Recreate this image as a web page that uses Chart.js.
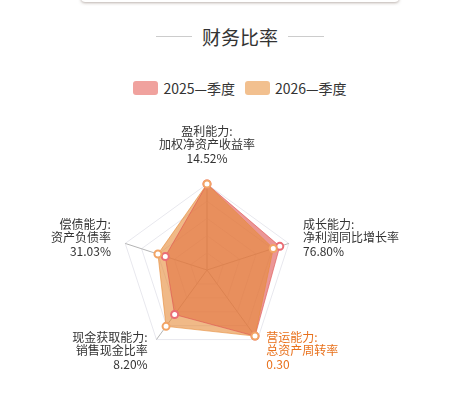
<!DOCTYPE html>
<html>
<head>
<meta charset="utf-8">
<script src="https://cdn.jsdelivr.net/npm/chart.js@4.4.1/dist/chart.umd.min.js"></script>
<style>
    html, body { margin: 0; padding: 0; background: #fff; overflow: hidden; }
    body { width: 449px; height: 405px; position: relative; font-family: "Noto Sans CJK SC", "Noto Sans", sans-serif; }
    .tarjeta { position: absolute; left: 81px; width: 318px; top: -8px; height: 10px; background: #fff; border-radius: 0 0 4px 4px; box-shadow: 0 1px 3px rgba(120, 100, 90, 0.5); }
    .titulo { position: absolute; left: 0; width: 480px; top: 22px; height: 28px; display: flex; justify-content: center; align-items: center; color: #333; font-size: 19px; }
    .titulo .linea { width: 36px; height: 1px; background: #ccc; margin: 0 10px; }
    .leyenda { position: absolute; left: 0; width: 480px; top: 78px; height: 20px; display: flex; justify-content: center; align-items: center; font-size: 14px; color: #333; }
    .leyenda .item { display: flex; align-items: center; margin: 0 5px; }
    .leyenda .caja { width: 25px; height: 14px; border-radius: 3px; margin-right: 5px; }
    #contenedor { position: absolute; left: 0; top: 0; width: 449px; height: 405px; }
</style>
</head>
<body>
<div class="tarjeta"></div>
<div class="titulo"><span class="linea"></span><span>财务比率</span><span class="linea"></span></div>
<div class="leyenda" id="leyenda"></div>
<div id="contenedor"><canvas id="radar"></canvas></div>
<script>
// data
const dimensiones = ['盈利能力:', '成长能力:', '营运能力:', '现金获取能力:', '偿债能力:'];
const indicadores = ['加权净资产收益率', '净利润同比增长率', '总资产周转率', '销售现金比率', '资产负债率'];
const valoresTexto = ['14.52%', '76.80%', '0.30', '8.20%', '31.03%'];
const series = ['2025—季度', '2026—季度'];
const puntos2025 = [1.0, 0.89, 0.95, 0.64, 0.51];
const puntos2026 = [1.0, 0.81, 0.95, 0.81, 0.60];

// styles
const rellenos = ['rgba(222, 80, 80, 0.6)', 'rgba(230, 138, 55, 0.6)'];
const bordes = ['#ea6d75', '#f2a465'];
const cajasLeyenda = ['#f0a29e', '#f2c08f'];
const indiceDestacado = 2;

// legend (html)
const leyenda = document.getElementById('leyenda');
series.forEach((nombre, i) => {
    const item = document.createElement('div');
    item.className = 'item';
    item.innerHTML = '<span class="caja" style="background:' + cajasLeyenda[i] + '"></span><span>' + nombre + '</span>';
    leyenda.appendChild(item);
});

// point labels drawn around the radial scale
const etiquetasRadar = {
    id: 'etiquetasRadar',
    afterDraw(chart) {
        const escala = chart.scales.r;
        const ctx = chart.ctx;
        const alto = 13.5;
        ctx.save();
        ctx.font = '12px "Noto Sans CJK SC", sans-serif';
        ctx.textBaseline = 'middle';
        dimensiones.forEach((dim, i) => {
            const lineas = [dim, indicadores[i], valoresTexto[i]];
            const arriba = i === 0;
            const pos = escala.getPointPosition(i, escala.drawingArea + (arriba ? 19 : 15));
            const cosx = pos.x - escala.xCenter;
            ctx.textAlign = Math.abs(cosx) < 5 ? 'center' : (cosx > 0 ? 'left' : 'right');
            ctx.fillStyle = i === indiceDestacado ? '#e8711c' : '#333';
            let y0 = arriba ? pos.y - alto * lineas.length + alto / 2 : pos.y - alto * (lineas.length - 1) / 2 - 1;
            lineas.forEach((t, k) => ctx.fillText(t, pos.x, y0 + k * alto));
        });
        ctx.restore();
    }
};

const ctxRadar = document.getElementById('radar');
let chartRadar = new Chart(ctxRadar, {
    type: 'radar',
    data: {
        labels: dimensiones,
        datasets: [{
            label: series[0],
            data: puntos2025,
            backgroundColor: rellenos[0],
            borderColor: rellenos[0],
            borderWidth: 1,
            pointRadius: 3.5,
            pointBorderWidth: 2,
            pointBackgroundColor: '#fff',
            pointBorderColor: bordes[0],
            fill: true,
            order: 1
        }, {
            label: series[1],
            data: puntos2026,
            backgroundColor: rellenos[1],
            borderColor: rellenos[1],
            borderWidth: 1,
            pointRadius: 3.5,
            pointBorderWidth: 2,
            pointBackgroundColor: '#fff',
            pointBorderColor: bordes[1],
            fill: true,
            order: 0
        }]
    },
    options: {
        responsive: true,
        maintainAspectRatio: false,
        animation: false,
        layout: { padding: { left: 121, right: 156, top: 184, bottom: 49 } },
        elements: { line: { tension: 0 } },
        scales: {
            r: {
                min: 0,
                max: 1,
                ticks: { display: false, stepSize: 0.2 },
                grid: { color: '#e8e8ee', lineWidth: 1 },
                angleLines: { color: '#b4b4b4', lineWidth: 1 },
                pointLabels: { display: false }
            }
        },
        plugins: {
            legend: { display: false },
            tooltip: { enabled: false },
            filler: { drawTime: 'beforeDatasetsDraw' }
        }
    },
    plugins: [etiquetasRadar]
});
</script>
</body>
</html>
